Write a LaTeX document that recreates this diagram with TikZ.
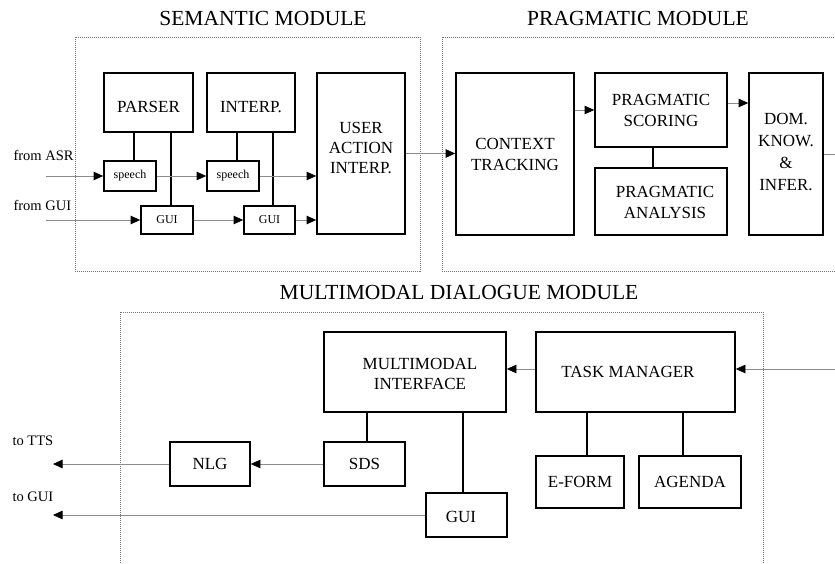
\documentclass[tikz,border=0pt]{standalone}
\usepackage{fontspec}
\setmainfont{Liberation Serif}
\usetikzlibrary{arrows.meta}
\begin{document}
\begin{tikzpicture}[x=1pt,y=-1pt,
  box/.style={draw,line width=1.7pt,inner sep=0pt,align=center,font=\fontsize{17}{21}\selectfont},
  sbox/.style={draw,line width=1.7pt,inner sep=0pt,font=\fontsize{12}{14}\selectfont},
  mod/.style={draw=black!55,line width=0.6pt,dash pattern=on 1pt off 1pt},
  flow/.style={draw=black!45,line width=0.7pt,-{Triangle[length=9.5pt,width=8.5pt,color=black]}},
  plainflow/.style={draw=black!45,line width=0.7pt},
  link/.style={line width=1.7pt},
  ttl/.style={font=\fontsize{21.5}{25}\selectfont},
  io/.style={anchor=west,font=\fontsize{14.5}{16}\selectfont}]
\useasboundingbox (0,0) rectangle (835,564);
\clip (0,0) rectangle (835,564);

% titles
\node[ttl] (tsem) at (263,18) {SEMANTIC MODULE};
\node[ttl] (tprag) at (638,18) {PRAGMATIC MODULE};
\node[ttl] (tmm) at (459,292) {MULTIMODAL DIALOGUE MODULE};

% module frames
\draw[mod] (75,37) rectangle (420,271);
\draw[mod] (442,37) rectangle (850,271);
\draw[mod] (120,312) rectangle (763,590);

% semantic module
\node[box,minimum width=89,minimum height=59] (parser) at (148.5,102.5) {};
\node[font=\fontsize{17}{21}\selectfont] at (148.5,107) {PARSER};
\node[box,minimum width=88,minimum height=59] (interp) at (251,102.5) {};
\node[font=\fontsize{17}{21}\selectfont] at (251,107) {INTERP.};
\node[box,minimum width=88,minimum height=161] (user) at (361,153.5) {};
\node[align=center,font=\fontsize{17}{20}\selectfont] at (361,148) {USER\\ACTION\\INTERP.};
\node[sbox,minimum width=52,minimum height=30] (sp1) at (130,176) {speech};
\node[sbox,minimum width=52,minimum height=28] (g1) at (167,220) {GUI};
\node[sbox,minimum width=52,minimum height=30] (sp2) at (233,176) {speech};
\node[sbox,minimum width=51,minimum height=28] (g2) at (269.5,220) {GUI};

\coordinate (asr) at (46,176);
\coordinate (fgui) at (46,220);
\node[io] (lasr) at (10,155) {from ASR};
\node[io] (lgui) at (10,205) {from GUI};

\draw[link] ([xshift=4pt]sp1.north) -- ([xshift=4pt]sp1.north |- parser.south);
\draw[link] ([xshift=4pt]g1.north) -- ([xshift=4pt]g1.north |- parser.south);
\draw[link] ([xshift=4pt]sp2.north) -- ([xshift=4pt]sp2.north |- interp.south);
\draw[link] ([xshift=3.5pt]g2.north) -- ([xshift=3.5pt]g2.north |- interp.south);

\draw[flow] (asr) -- (sp1.west);
\draw[flow] (fgui) -- (g1.west);
\draw[flow] (sp1.east) -- (sp2.west);
\draw[flow] (g1.east) -- (g2.west);
\draw[flow] (sp2.east) -- (sp2.east -| user.west);
\draw[flow] (g2.east) -- (g2.east -| user.west);

% pragmatic module
\node[box,minimum width=118,minimum height=162] (ctx) at (515,154) {CONTEXT\\TRACKING};
\node[box,minimum width=132,minimum height=74] (score) at (661,110) {PRAGMATIC\\SCORING};
\node[box,minimum width=132,minimum height=67] (anal) at (661,201.5) {};
\node[align=center,font=\fontsize{17}{21}\selectfont] at (665,202.5) {PRAGMATIC\\ANALYSIS};
\node[box,minimum width=74,minimum height=162] (dom) at (786,154) {};
\node[align=center,font=\fontsize{17}{22}\selectfont] at (786,151.5) {DOM.\\KNOW.\\\&\\INFER.};
\coordinate (domout) at (840,154);

\draw[link] ([xshift=-8pt]anal.north) -- ([xshift=-8pt]score.south);
\draw[flow] (user.east) -- (user.east -| ctx.west);
\draw[flow] (score.west -| ctx.east) -- (score.west);
\draw[flow] ([yshift=7pt]score.east) -- ([yshift=7pt]score.east -| dom.west);
\draw[plainflow] (dom.east) -- (domout);

% multimodal dialogue module
\node[box,minimum width=182,minimum height=80] (mi) at (415,372) {};
\node[align=center,font=\fontsize{17}{20}\selectfont] at (420,373.5) {MULTIMODAL\\INTERFACE};
\node[box,minimum width=199,minimum height=80] (tm) at (635.5,372) {};
\node[font=\fontsize{17}{21}\selectfont] at (628,372) {TASK MANAGER};
\node[box,minimum width=81,minimum height=44] (sds) at (364.5,464) {SDS};
\node[box,minimum width=80,minimum height=44] (nlg) at (210,464) {NLG};
\node[box,minimum width=81,minimum height=44] (gui) at (466.5,515) {};
\node[font=\fontsize{17}{21}\selectfont] at (461,517) {GUI};
\node[box,minimum width=88,minimum height=52] (eform) at (580,482) {E-FORM};
\node[box,minimum width=102,minimum height=52] (agenda) at (690,482) {AGENDA};

\coordinate (tmin) at (840,369);
\coordinate (tts) at (53,464);
\coordinate (tgui) at (53,515);
\node[io] (ltts) at (9,441) {to TTS};
\node[io] (ltgui) at (9,497) {to GUI};

\draw[link] ([xshift=2.5pt]sds.north) -- ([xshift=2.5pt]sds.north |- mi.south);
\draw[link] ([xshift=-3.5pt]gui.north) -- ([xshift=-3.5pt]gui.north |- mi.south);
\draw[link] ([xshift=7pt]eform.north) -- ([xshift=7pt]eform.north |- tm.south);
\draw[link] ([xshift=-7pt]agenda.north) -- ([xshift=-7pt]agenda.north |- tm.south);

\draw[flow] (tmin) -- (tmin -| tm.east);
\draw[flow] ([yshift=3pt]tm.west) -- ([yshift=3pt]mi.east);
\draw[flow] (sds.west) -- (nlg.east);
\draw[flow] (nlg.west) -- (tts);
\draw[flow] (gui.west) -- (tgui);
\end{tikzpicture}
\end{document}
